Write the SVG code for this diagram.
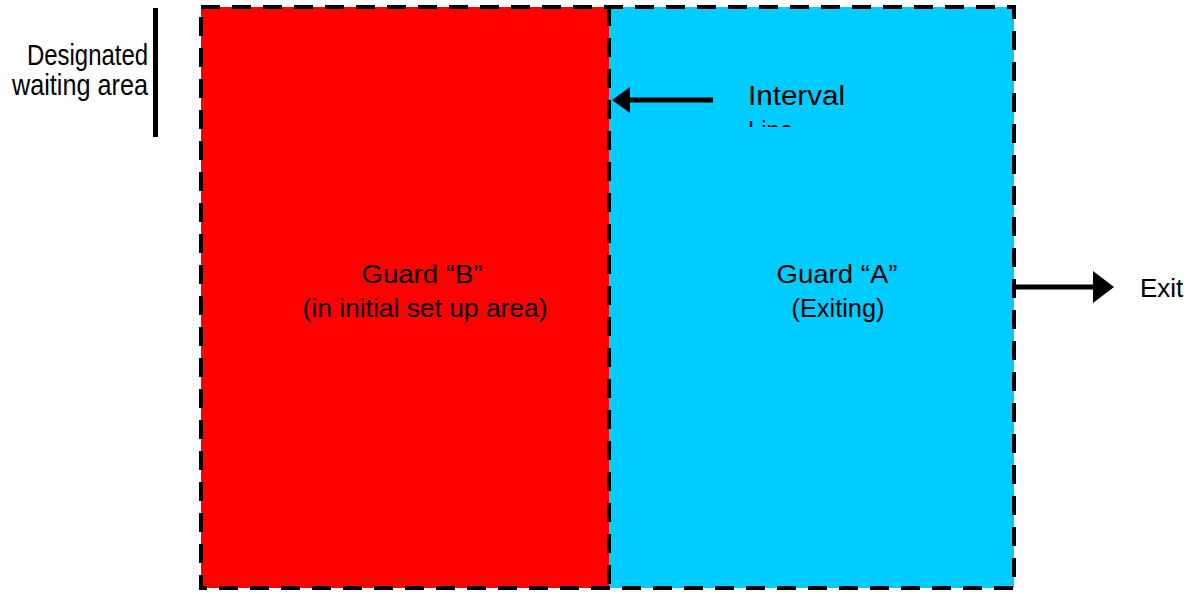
<svg xmlns="http://www.w3.org/2000/svg" width="1192" height="594" viewBox="0 0 1192 594">
<style>
.t{font-family:"Liberation Sans",Arial,sans-serif;font-size:25px;fill:#000}
.b{font-size:29px}
.d{fill:none;stroke:#000;stroke-width:4;stroke-dasharray:19 12}
.ln{stroke:#000;stroke-width:5;fill:none}
</style>
<defs>
<clipPath id="lineClip"><rect x="700" y="110" width="200" height="17"/></clipPath>
</defs>
<rect width="1192" height="594" fill="#fff"/>
<g id="guardB">
<rect x="201" y="7" width="408" height="581" fill="#ff0000"/>
<text class="t" x="422" y="283" text-anchor="middle" textLength="121" lengthAdjust="spacingAndGlyphs">Guard “B”</text>
<text class="t" x="425" y="317" text-anchor="middle" textLength="245" lengthAdjust="spacingAndGlyphs">(in initial set up area)</text>
</g>
<g id="guardA">
<rect x="609" y="7" width="405" height="581" fill="#00ccff"/>
<text class="t" x="837" y="283" text-anchor="middle" textLength="121" lengthAdjust="spacingAndGlyphs">Guard “A”</text>
<text class="t" x="838" y="317" text-anchor="middle" textLength="93" lengthAdjust="spacingAndGlyphs">(Exiting)</text>
</g>
<g id="borders">
<rect class="d" x="201" y="7" width="813" height="581"/>
<line class="d" x1="609" y1="7" x2="609" y2="588"/>
</g>
<g id="waiting">
<line x1="155.5" y1="8" x2="155.5" y2="137" stroke="#000" stroke-width="5"/>
<text class="t b" x="148" y="65" text-anchor="end" textLength="121" lengthAdjust="spacingAndGlyphs">Designated</text>
<text class="t b" x="148" y="95" text-anchor="end" textLength="136" lengthAdjust="spacingAndGlyphs">waiting area</text>
</g>
<g id="interval">
<text class="t" x="748" y="105" font-size="27" textLength="97" lengthAdjust="spacingAndGlyphs" style="font-size:27px">Interval</text>
<text class="t" x="748" y="140" textLength="45" lengthAdjust="spacingAndGlyphs" style="font-size:27px" clip-path="url(#lineClip)">Line</text>
</g>
<g id="exit">
<text x="1140" y="297" font-family="Liberation Sans, Arial, sans-serif" font-size="26">Exit</text>
</g>
<g id="connectors">
<line class="ln" x1="628" y1="100" x2="713" y2="100"/>
<polygon points="612,100 630,87 630,113" fill="#000"/>
<line class="ln" x1="1013" y1="287" x2="1094" y2="287"/>
<polygon points="1114,287 1093,271 1093,303" fill="#000"/>
</g>
</svg>
